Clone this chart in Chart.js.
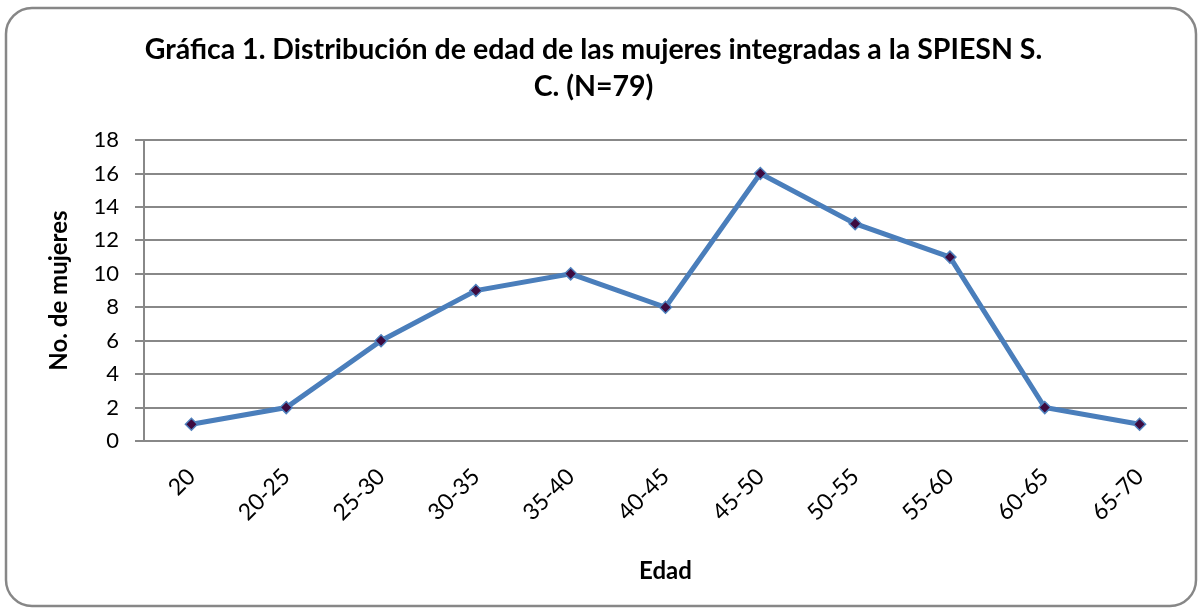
<!DOCTYPE html>
<html>
<head>
<meta charset="utf-8">
<script src="https://cdn.jsdelivr.net/npm/chart.js@4"></script>
<style>
  html, body { margin: 0; padding: 0; background: #fff; }
  #wrap { width: 1202px; height: 614px; position: relative; }
</style>
</head>
<body>
<div id="wrap"><canvas id="edadCanvas"></canvas></div>
<script>
const edades = ['20', '20-25', '25-30', '30-35', '35-40', '40-45', '45-50', '50-55', '55-60', '60-65', '65-70'];
const mujeres = [1, 2, 6, 9, 10, 8, 16, 13, 11, 2, 1];
const tituloLineas = ['Gráfica 1. Distribución de edad de las mujeres integradas a la SPIESN S.', 'C. (N=79)'];

const FONT = 'Lato, "Open Sans", sans-serif';

// marco redondeado alrededor de todo el gráfico
const marco = {
    id: 'marco',
    beforeDraw(chart) {
        const ctx = chart.ctx;
        const x = 6, y = 8, w = 1190, h = 598, r = 26;
        ctx.save();
        ctx.fillStyle = '#fff';
        ctx.fillRect(0, 0, chart.width, chart.height);
        ctx.beginPath();
        ctx.roundRect(x, y, w, h, r);
        ctx.strokeStyle = '#878787';
        ctx.lineWidth = 2.5;
        ctx.stroke();
        ctx.restore();
    }
};

new Chart(document.getElementById('edadCanvas'), {
    type: 'line',
    data: {
        labels: edades,
        datasets: [{
            label: 'No. de mujeres',
            data: mujeres,
            borderColor: '#4a7ebb',
            borderWidth: 5,
            tension: 0,
            fill: false,
            pointStyle: 'rectRot',
            pointRadius: 6,
            pointHoverRadius: 6,
            pointBackgroundColor: '#3d0a3f',
            pointBorderColor: '#4f81bd',
            pointBorderWidth: 1.5
        }]
    },
    options: {
        responsive: true,
        maintainAspectRatio: false,
        animation: false,
        layout: { padding: { left: 0, right: 15, top: 0, bottom: 0 } },
        plugins: {
            legend: { display: false },
            tooltip: { enabled: false },
            title: {
                display: true,
                text: tituloLineas,
                color: '#000',
                font: { family: FONT, size: 28.5, weight: 'bold', lineHeight: 1.3 },
                padding: { top: 31, bottom: 35 }
            }
        },
        scales: {
            x: {
                offset: true,
                grid: { display: false, drawTicks: false },
                border: { display: true, color: '#888', width: 2 },
                ticks: {
                    color: '#000',
                    font: { family: FONT, size: 23 },
                    minRotation: 45,
                    maxRotation: 45,
                    padding: 22
                },
                title: {
                    display: true,
                    text: 'Edad',
                    color: '#000',
                    font: { family: FONT, size: 24, weight: 'bold' },
                    padding: { top: 10, bottom: 28 }
                },
                afterFit(scale) { scale.height = 173; }
            },
            y: {
                min: 0,
                max: 18,
                ticks: {
                    stepSize: 2,
                    color: '#000',
                    font: { family: FONT, size: 22 },
                    padding: 16
                },
                grid: { color: '#888', lineWidth: 2, tickLength: 9 },
                border: { display: true, color: '#888', width: 2 },
                title: {
                    display: true,
                    text: 'No. de mujeres',
                    color: '#000',
                    font: { family: FONT, size: 24, weight: 'bold' },
                    padding: { top: 45, bottom: 0 }
                },
                afterFit(scale) { scale.width = 144; }
            }
        }
    },
    plugins: [marco]
});
</script>
</body>
</html>
